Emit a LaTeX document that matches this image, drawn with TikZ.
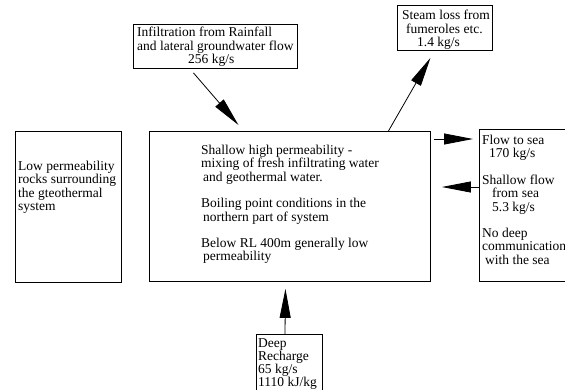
\documentclass[tikz,border=0pt]{standalone}
\usepackage{fontspec}
\setmainfont{Liberation Serif}
\usetikzlibrary{arrows.meta}

\tikzset{
	box/.style={draw, line width=0.9pt, inner sep=0pt, anchor=north west},
	note/.style={inner sep=0pt, anchor=north west, align=left, font=\fontsize{13.5}{13.3}\selectfont},
	flow/.style={-{Triangle[length=29pt,width=11pt]}, line width=0.8pt},
}

\begin{document}
\begin{tikzpicture}[x=1pt,y=-1pt]
	\clip (0,0) rectangle (565,389);
	\node[box, minimum width=164pt, minimum height=44pt] (infil) at (133,24) {};
	\node[box, minimum width=95pt, minimum height=45pt] (steam) at (397,5) {};
	\node[box, minimum width=106pt, minimum height=151pt] (wall) at (15,131) {};
	\node[box, minimum width=281pt, minimum height=150pt] (core) at (149,131) {};
	\node[box, minimum width=120pt, minimum height=152pt] (sea) at (479,129) {};
	\node[box, minimum width=66pt, minimum height=80pt] (deep) at (256,334) {};
	\node[note] (infiltxt) at (137,27) {Infiltration from Rainfall\\ and lateral groundwater flow\\\hspace*{51pt}256 kg/s};
	\node[note] (steamtxt) at (402,10) {Steam loss from\\\hspace*{4pt}fumeroles etc.\\\hspace*{15pt}1.4 kg/s};
	\node[note] (walltxt) at (18,161) {Low permeability\\rocks surrounding\\the gteothermal\\system};
	\node[note] (coretxt) at (201,145) {Shallow high permeability -\\mixing of fresh infiltrating water\\\hspace*{2pt}and geothermal water.\\[13.3pt]Boiling point conditions in the\\\hspace*{2pt}northern part of system\\[13.3pt]Below RL 400m generally low\\\hspace*{2pt}permeability};
	\node[note] (seatxt) at (482,135) {Flow to sea\\\hspace*{7pt}170 kg/s\\[13.3pt]Shallow flow\\\hspace*{10pt}from sea\\\hspace*{10pt}5.3 kg/s\\[13.3pt]No deep\\communication\\\hspace*{3pt}with the sea};
	\node[note] (deeptxt) at (258,338) {Deep\\Recharge\\65 kg/s\\1110 kJ/kg};
	\draw[flow] ([shift={(-22pt,-4pt)}]infil.south) -- ([shift={(-51.5pt,6pt)}]core.north);
	\draw[flow] ([xshift=98.5pt]core.north) -- ([shift={(-14.5pt,-7pt)}]steam.south);
	\draw[flow] ([shift={(3pt,-8pt)}]core.north east) -- ([shift={(-6pt,-10pt)}]sea.north west);
	\draw[flow] ([yshift=-58pt]sea.north west) -- ([shift={(11pt,-56pt)}]core.north east);
	\draw[flow] ([xshift=29pt]deep.north west) -- ([shift={(-4.5pt,-7pt)}]core.south);
\end{tikzpicture}
\end{document}
